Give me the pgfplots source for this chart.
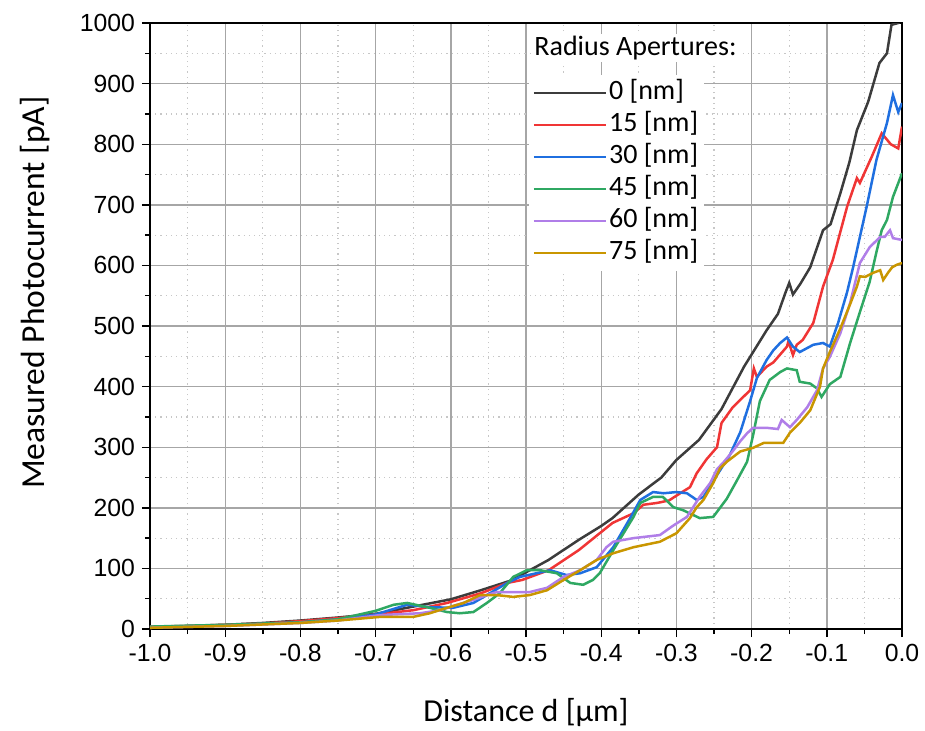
\documentclass[border=0pt]{standalone}
\usepackage{fontspec}
\setmainfont{Liberation Sans}
\newfontfamily\calibri{Carlito}
\usepackage{pgfplots}
\pgfplotsset{compat=1.18}

\definecolor{c0}{HTML}{3C3C3C}
\definecolor{c15}{HTML}{F03535}
\definecolor{c30}{HTML}{1F6FE0}
\definecolor{c45}{HTML}{2FA862}
\definecolor{c60}{HTML}{B07EE8}
\definecolor{c75}{HTML}{C99600}

\begin{document}
\begin{tikzpicture}
\begin{axis}[
  name=ax,
  scale only axis,
  width=376pt, height=303pt,
  xmin=-1, xmax=0, ymin=0, ymax=1000,
  xtick={-1,-0.9,-0.8,-0.7,-0.6,-0.5,-0.4,-0.3,-0.2,-0.1,0},
  ytick={0,100,200,300,400,500,600,700,800,900,1000},
  minor tick num=1,
  tick pos=left, tick align=outside,
  major tick length=4pt, minor tick length=2.5pt,
  tick style={black, line width=0.7pt},
  axis line style={black, line width=1pt},
  grid=both,
  major grid style={color=black!35, line width=0.7pt},
  minor grid style={color=black!22, line width=0.6pt, dotted},
  /pgf/number format/assume math mode=true,
  xticklabel={\pgfmathprintnumber[fixed,fixed zerofill,precision=1]{\tick}},
  yticklabel={\pgfmathprintnumber[fixed,precision=0,1000 sep={}]{\tick}},
  ticklabel style={font=\fontsize{12.4}{14}\selectfont},
  xlabel={Distance d [\textmu m]},
  ylabel={Measured Photocurrent [pA]},
  xlabel style={font=\calibri\fontsize{16}{18}\selectfont,
    at={(axis description cs:0.5,-0.137)}, anchor=center},
  ylabel style={font=\calibri\fontsize{16.8}{19}\selectfont,
    at={(axis description cs:-0.153,0.555)}, anchor=center},
  every axis plot/.append style={line width=1.25pt},
  legend image code/.code={\draw[#1] (0pt,0pt) -- (36pt,0pt);},
  legend style={at={(axis description cs:0.503,0.915)}, anchor=north west,
    draw=none, fill=white, inner xsep=2pt, inner ysep=1pt,
    font=\calibri\fontsize{14}{16}\selectfont,
    nodes={inner sep=1pt, text height=10.5pt, text depth=3.5pt}},
  legend cell align=left,
]
\addplot[c0] coordinates {
(-1.00,3) (-0.95,5) (-0.90,7) (-0.85,10) (-0.80,14) (-0.75,19) (-0.70,25)
(-0.65,37) (-0.60,49) (-0.56,64) (-0.52,80) (-0.47,114) (-0.43,147) (-0.40,170)
(-0.385,183) (-0.35,222) (-0.32,250) (-0.30,279) (-0.27,312) (-0.24,363)
(-0.21,433) (-0.18,493) (-0.165,520) (-0.155,555) (-0.15,571) (-0.145,552)
(-0.135,570) (-0.122,597) (-0.105,658) (-0.095,668) (-0.082,719) (-0.07,770)
(-0.06,823) (-0.045,870) (-0.03,934) (-0.02,950) (-0.014,997) (-0.005,1000) (0,1005)
};
\addlegendentry{0 [nm]}
\addplot[c15] coordinates {
(-1.00,4) (-0.95,5) (-0.90,7) (-0.85,9) (-0.80,13) (-0.75,18) (-0.70,24)
(-0.65,31) (-0.605,43) (-0.56,59) (-0.525,76) (-0.505,81) (-0.47,97) (-0.43,130)
(-0.385,175) (-0.357,191) (-0.344,205) (-0.326,208) (-0.31,212) (-0.295,224)
(-0.282,234) (-0.273,257) (-0.26,280) (-0.246,300) (-0.24,340) (-0.225,366)
(-0.202,394) (-0.197,430) (-0.193,416) (-0.18,433) (-0.171,440) (-0.153,466)
(-0.151,475) (-0.145,452) (-0.14,469) (-0.132,477) (-0.118,505) (-0.105,565)
(-0.092,609) (-0.073,697) (-0.06,744) (-0.056,736) (-0.04,780) (-0.027,818)
(-0.015,800) (-0.005,793) (0,829)
};
\addlegendentry{15 [nm]}
\addplot[c30] coordinates {
(-1.00,3) (-0.90,6) (-0.80,11) (-0.75,16) (-0.70,24) (-0.658,40) (-0.628,36)
(-0.597,35) (-0.57,43) (-0.548,59) (-0.525,76) (-0.508,86) (-0.468,97)
(-0.446,89) (-0.428,92) (-0.406,102) (-0.384,135) (-0.362,182) (-0.348,213)
(-0.331,226) (-0.317,224) (-0.30,226) (-0.286,224) (-0.273,213) (-0.264,218)
(-0.246,254) (-0.229,287) (-0.215,325) (-0.202,376) (-0.193,414) (-0.18,444)
(-0.171,460) (-0.162,472) (-0.153,481) (-0.145,466) (-0.136,457) (-0.118,469)
(-0.105,472) (-0.096,466) (-0.085,505) (-0.073,556) (-0.065,597) (-0.056,647)
(-0.047,697) (-0.034,774) (-0.02,835) (-0.012,881) (-0.005,853) (0,868)
};
\addlegendentry{30 [nm]}
\addplot[c45] coordinates {
(-1.00,4) (-0.90,7) (-0.80,11) (-0.75,16) (-0.70,30) (-0.676,40) (-0.658,43)
(-0.628,35) (-0.605,28) (-0.588,26) (-0.57,28) (-0.552,43) (-0.535,59)
(-0.517,86) (-0.499,97) (-0.481,97) (-0.459,92) (-0.441,76) (-0.424,73)
(-0.411,81) (-0.402,92) (-0.384,130) (-0.357,185) (-0.348,208) (-0.331,218)
(-0.318,218) (-0.304,201) (-0.291,196) (-0.269,183) (-0.251,185) (-0.233,215)
(-0.22,244) (-0.206,276) (-0.198,320) (-0.189,376) (-0.176,411) (-0.162,424)
(-0.153,430) (-0.14,427) (-0.136,408) (-0.122,405) (-0.113,397) (-0.107,383)
(-0.096,404) (-0.082,416) (-0.069,472) (-0.056,523) (-0.043,573) (-0.034,622)
(-0.027,658) (-0.02,675) (-0.012,713) (0,752)
};
\addlegendentry{45 [nm]}
\addplot[c60] coordinates {
(-1.00,2) (-0.90,5) (-0.80,10) (-0.75,14) (-0.694,23) (-0.641,26) (-0.614,31)
(-0.592,40) (-0.57,48) (-0.552,56) (-0.539,61) (-0.495,61) (-0.472,68)
(-0.45,86) (-0.428,97) (-0.406,114) (-0.393,135) (-0.384,144) (-0.357,150)
(-0.322,155) (-0.305,170) (-0.286,185) (-0.269,218) (-0.255,241) (-0.246,264)
(-0.238,274) (-0.224,295) (-0.215,310) (-0.206,323) (-0.198,332) (-0.18,332)
(-0.165,330) (-0.16,345) (-0.149,333) (-0.14,345) (-0.126,366) (-0.113,394)
(-0.105,430) (-0.096,449) (-0.082,488) (-0.069,538) (-0.056,604) (-0.043,630)
(-0.029,647) (-0.023,647) (-0.016,658) (-0.012,645) (0,642)
};
\addlegendentry{60 [nm]}
\addplot[c75] coordinates {
(-1.00,2) (-0.90,5) (-0.80,10) (-0.75,14) (-0.694,20) (-0.65,20) (-0.628,26)
(-0.605,35) (-0.583,43) (-0.561,56) (-0.539,56) (-0.517,53) (-0.495,56)
(-0.472,64) (-0.45,81) (-0.428,97) (-0.406,114) (-0.384,125) (-0.357,135)
(-0.322,144) (-0.30,158) (-0.282,183) (-0.273,201) (-0.264,213) (-0.251,241)
(-0.242,265) (-0.233,276) (-0.215,293) (-0.198,299) (-0.184,307) (-0.158,307)
(-0.149,324) (-0.136,340) (-0.122,361) (-0.109,400) (-0.105,430) (-0.096,457)
(-0.082,496) (-0.069,536) (-0.06,565) (-0.056,582) (-0.049,581) (-0.038,588)
(-0.029,592) (-0.025,576) (-0.018,589) (-0.013,597) (-0.007,601) (0,604)
};
\addlegendentry{75 [nm]}
\node[anchor=west, fill=white, inner sep=1pt, font=\calibri\fontsize{14}{16}\selectfont]
  at (axis description cs:0.508,0.959) {Radius Apertures:};
\end{axis}
\pgfresetboundingbox
\path ([xshift=-75pt,yshift=-50.5pt]ax.south west) rectangle ([xshift=11.5pt,yshift=11.5pt]ax.north east);
\end{tikzpicture}
\end{document}
